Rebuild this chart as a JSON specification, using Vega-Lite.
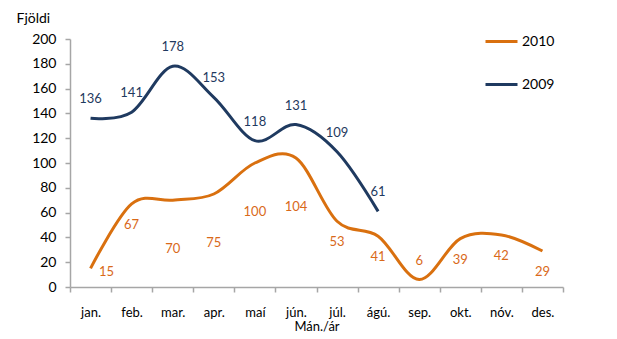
{
  "$schema": "https://vega.github.io/schema/vega-lite/v6.json",
  "width": 493,
  "height": 248,
  "autosize": {"type": "none"},
  "padding": {"left": 70, "top": 39, "right": 54, "bottom": 52},
  "background": "white",
  "config": {
    "view": {"stroke": null},
    "font": "Lato",
    "axis": {"labelFont": "Lato", "titleFont": "Lato", "labelColor": "#000000", "titleColor": "#000000", "grid": false, "domainColor": "#A6A6A6", "tickColor": "#A6A6A6", "domainWidth": 1.5, "tickWidth": 1.5},
    "legend": {"labelFont": "Lato"}
  },
  "data": {
    "values": [
      {"month": "jan.", "year": "2009", "value": 136},
      {"month": "feb.", "year": "2009", "value": 141},
      {"month": "mar.", "year": "2009", "value": 178},
      {"month": "apr.", "year": "2009", "value": 153},
      {"month": "maí", "year": "2009", "value": 118},
      {"month": "jún.", "year": "2009", "value": 131},
      {"month": "júl.", "year": "2009", "value": 109},
      {"month": "ágú.", "year": "2009", "value": 61},
      {"month": "jan.", "year": "2010", "value": 15},
      {"month": "feb.", "year": "2010", "value": 67},
      {"month": "mar.", "year": "2010", "value": 70},
      {"month": "apr.", "year": "2010", "value": 75},
      {"month": "maí", "year": "2010", "value": 100},
      {"month": "jún.", "year": "2010", "value": 104},
      {"month": "júl.", "year": "2010", "value": 53},
      {"month": "ágú.", "year": "2010", "value": 41},
      {"month": "sep.", "year": "2010", "value": 6},
      {"month": "okt.", "year": "2010", "value": 39},
      {"month": "nóv.", "year": "2010", "value": 42},
      {"month": "des.", "year": "2010", "value": 29}
    ]
  },
  "encoding": {
    "x": {
      "field": "month", "type": "nominal",
      "sort": ["jan.", "feb.", "mar.", "apr.", "maí", "jún.", "júl.", "ágú.", "sep.", "okt.", "nóv.", "des."],
      "scale": {"type": "band", "paddingInner": 0, "paddingOuter": 0},
      "axis": {"title": "Mán./ár", "labelAngle": 0, "labelFontSize": 13, "titleFontSize": 13, "titleFontWeight": "normal", "tickBand": "extent", "tickSize": 5, "labelPadding": 14, "titlePadding": 1}
    },
    "y": {
      "field": "value", "type": "quantitative",
      "scale": {"domain": [0, 200], "nice": false},
      "axis": {"title": "Fjöldi", "values": [0, 20, 40, 60, 80, 100, 120, 140, 160, 180, 200], "labelFontSize": 14, "titleFontSize": 14, "titleFontWeight": "normal", "titleAngle": 0, "titleAlign": "left", "titleBaseline": "middle", "titleX": -54, "titleY": -21, "tickSize": 5, "labelPadding": 9}
    }
  },
  "layer": [
    {
      "mark": {"type": "line", "interpolate": "cardinal", "tension": 0, "strokeWidth": 3},
      "encoding": {
        "color": {
          "field": "year", "type": "nominal",
          "scale": {"domain": ["2010", "2009"], "range": ["#D9700F", "#1F3A60"]},
          "legend": {"title": null, "orient": "none", "legendX": 414, "legendY": -15, "symbolType": "stroke", "symbolSize": 1024, "symbolStrokeWidth": 3, "labelFontSize": 14, "labelColor": "#000000", "rowPadding": 18, "labelOffset": 3}
        }
      }
    },
    {
      "transform": [{"filter": "datum.year == '2009'"}],
      "mark": {"type": "text", "dy": -19, "fontSize": 13, "color": "#1F3A60"},
      "encoding": {"text": {"field": "value", "type": "quantitative"}}
    },
    {
      "transform": [{"filter": "datum.year == '2010' && indexof(['feb.','júl.','ágú.','okt.','nóv.','des.'], datum.month) >= 0"}],
      "mark": {"type": "text", "dy": 21, "fontSize": 13, "color": "#D9691A"},
      "encoding": {"text": {"field": "value", "type": "quantitative"}}
    },
    {
      "transform": [{"filter": "datum.year == '2010' && indexof(['mar.','apr.','maí','jún.'], datum.month) >= 0"}],
      "mark": {"type": "text", "dy": 49, "fontSize": 13, "color": "#D9691A"},
      "encoding": {"text": {"field": "value", "type": "quantitative"}}
    },
    {
      "transform": [{"filter": "datum.year == '2010' && datum.month == 'sep.'"}],
      "mark": {"type": "text", "dy": -19, "fontSize": 13, "color": "#D9691A"},
      "encoding": {"text": {"field": "value", "type": "quantitative"}}
    },
    {
      "transform": [{"filter": "datum.year == '2010' && datum.month == 'jan.'"}],
      "mark": {"type": "text", "dx": 16, "dy": 4, "fontSize": 13, "color": "#D9691A"},
      "encoding": {"text": {"field": "value", "type": "quantitative"}}
    }
  ]
}
